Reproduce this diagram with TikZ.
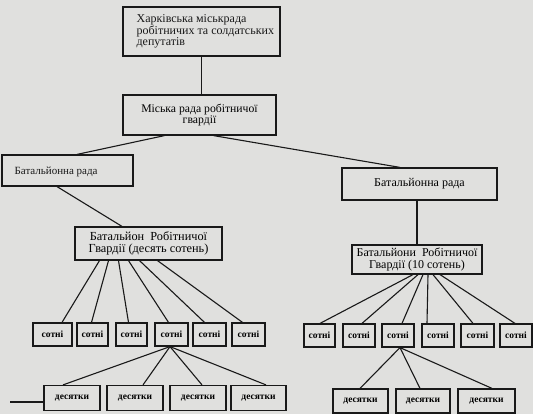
\documentclass[tikz,border=0pt]{standalone}
\usepackage{fontspec}
\setmainfont{Liberation Serif}
\usetikzlibrary{calc}
\definecolor{paper}{RGB}{224,224,222}
\definecolor{ink}{RGB}{25,25,25}
\tikzset{
  box/.style={draw=ink, line width=1.2pt, inner sep=0pt, fill=paper},
  txt/.style={inner sep=0pt, text=ink, align=left},
  link/.style={draw=ink, line width=1.1pt},
  sot/.style={box, minimum height=23pt, font=\fontsize{9.5}{10}\selectfont\bfseries},
  des/.style={box, minimum height=25pt, font=\fontsize{9.5}{10}\selectfont\bfseries},
}
\begin{document}
\begin{tikzpicture}[x=1pt,y=-1pt]
\fill[paper] (0,0) rectangle (533,414);
\useasboundingbox (0,0) rectangle (533,414);
% main boxes
\node[box, minimum width=157pt, minimum height=49pt] (top) at (201.5,31.5) {};
\node[txt, anchor=west, font=\fontsize{12}{11.5}\selectfont] (toptext) at ([xshift=14pt]top.west)
  {Харківська міськрада\\робітничих та солдатських\\депутатів};
\node[box, minimum width=153pt, minimum height=40pt, align=center,
      font=\fontsize{11.7}{11}\selectfont] (city) at (199.5,115)
  {Міська рада робітничої\\гвардії};
\node[box, minimum width=131pt, minimum height=31pt] (lrada) at (67.5,170.5) {};
\node[txt, anchor=west, font=\fontsize{11}{12}\selectfont] (lradatext) at ([xshift=13pt,yshift=-1pt]lrada.west)
  {Батальйонна рада};
\node[box, minimum width=155pt, minimum height=32pt, align=center,
      font=\fontsize{12}{12}\selectfont] (rrada) at (419.5,184)
  {Батальйонна рада};
\node[box, minimum width=147pt, minimum height=33pt, align=center,
      font=\fontsize{12.3}{12}\selectfont] (lbat) at (148.5,243.5)
  {Батальйон\ \ Робітничої\\Гвардії (десять сотень)};
\node[box, minimum width=130pt, minimum height=29pt, align=center,
      font=\fontsize{12}{11.5}\selectfont] (rbat) at (417,259.5)
  {Батальйони\ \ Робітничої\\Гвардії (10 сотень)};
% left sotni
\node[sot, minimum width=39pt] (ls1) at (52.5,334.5) {сотні};
\node[sot, minimum width=31pt] (ls2) at (92.5,334.5) {сотні};
\node[sot, minimum width=31pt] (ls3) at (131.5,334.5) {сотні};
\node[sot, minimum width=33pt] (ls4) at (171.5,334.5) {сотні};
\node[sot, minimum width=33pt] (ls5) at (209.5,334.5) {сотні};
\node[sot, minimum width=33pt] (ls6) at (248.5,334.5) {сотні};
% right sotni
\node[sot, minimum width=31pt] (rs1) at (319.5,335.5) {сотні};
\node[sot, minimum width=32pt] (rs2) at (359,335.5) {сотні};
\node[sot, minimum width=32pt] (rs3) at (398,335.5) {сотні};
\node[sot, minimum width=32pt] (rs4) at (438,335.5) {сотні};
\node[sot, minimum width=33pt] (rs5) at (477.5,335.5) {сотні};
\node[sot, minimum width=32pt] (rs6) at (516,335.5) {сотні};
% left desiatky
\node[des, minimum width=56pt] (ld1) at (72,398) {десятки};
\node[des, minimum width=56pt] (ld2) at (135,398) {десятки};
\node[des, minimum width=56pt] (ld3) at (198,398) {десятки};
\node[des, minimum width=55pt] (ld4) at (258.5,398) {десятки};
% right desiatky
\node[des, minimum width=55pt, minimum height=24pt] (rd1) at (360.5,401) {десятки};
\node[des, minimum width=54pt, minimum height=24pt] (rd2) at (423,401) {десятки};
\node[des, minimum width=57pt, minimum height=24pt] (rd3) at (486.5,401) {десятки};
\coordinate (stray) at (10,402);
% connectors
\draw[link] (top.south) -- (top.south |- city.north);
\draw[link] ([xshift=-35pt]city.south) -- ([xshift=9.5pt]lrada.north);
\draw[link] ([xshift=14pt]city.south) -- ([xshift=-19.5pt]rrada.north);
\draw[link] ([xshift=-10.5pt]lrada.south) -- ([xshift=-26.5pt]lbat.north);
\draw[link] (rbat.north |- rrada.south) -- (rbat.north);
\draw[link] ([xshift=-49pt]lbat.south) -- ([xshift=9.5pt]ls1.north);
\draw[link] ([xshift=-40pt]lbat.south) -- ([xshift=-1pt]ls2.north);
\draw[link] ([xshift=-30pt]lbat.south) -- ([xshift=-3pt]ls3.north);
\draw[link] ([xshift=-20pt]lbat.south) -- ([xshift=-3pt]ls4.north);
\draw[link] ([xshift=-9pt]lbat.south) -- ([xshift=-5pt]ls5.north);
\draw[link] ([xshift=9pt]lbat.south) -- ([xshift=-6pt]ls6.north);
\draw[link] ([xshift=-4pt]rbat.south) -- ([xshift=0.5pt]rs1.north);
\draw[link] ([xshift=1pt]rbat.south) -- ([xshift=3pt]rs2.north);
\draw[link] ([xshift=6pt]rbat.south) -- ([xshift=4pt]rs3.north);
\draw[link] ([xshift=11pt]rbat.south) -- ([xshift=-11pt]rs4.north);
\draw[link] ([xshift=16pt]rbat.south) -- ([xshift=-4.5pt]rs5.north);
\draw[link] ([xshift=23pt]rbat.south) -- ([xshift=-1pt]rs6.north);
\draw[link] ([xshift=-1.5pt]ls4.south) -- ([xshift=-9pt]ld1.north);
\draw[link] ([xshift=-1.5pt]ls4.south) -- ([xshift=8pt]ld2.north);
\draw[link] ([xshift=-1.5pt]ls4.south) -- ([xshift=4pt]ld3.north);
\draw[link] ([xshift=-1.5pt]ls4.south) -- ([xshift=7.5pt]ld4.north);
\draw[link] ([xshift=2pt]rs3.south) -- ([xshift=-0.5pt]rd1.north);
\draw[link] ([xshift=2pt]rs3.south) -- ([xshift=-3pt]rd2.north);
\draw[link] ([xshift=2pt]rs3.south) -- ([xshift=5.5pt]rd3.north);
\draw[link] (stray) -- (stray -| ld1.west);
\end{tikzpicture}
\end{document}
